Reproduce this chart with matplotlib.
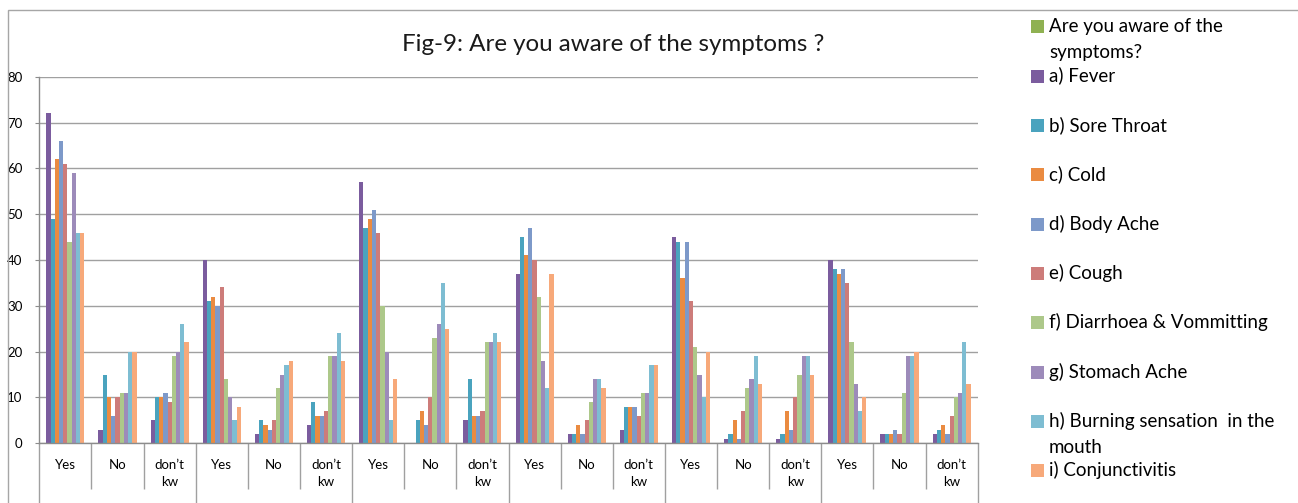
import matplotlib
matplotlib.use("Agg")
import matplotlib.pyplot as plt
from matplotlib.patches import Rectangle
from matplotlib.transforms import blended_transform_factory
import numpy as np

plt.rcParams['font.family'] = ['Lato', 'DejaVu Sans']

# ---- data -------------------------------------------------------------
categories = ["Yes", "No", "don\u2019t\nkw"] * 6

header_label = "Are you aware of the\nsymptoms?"
header_color = "#8FB152"

series_names = [
    "a) Fever",
    "b) Sore Throat",
    "c) Cold",
    "d) Body Ache",
    "e) Cough",
    "f) Diarrhoea & Vommitting",
    "g) Stomach Ache",
    "h) Burning sensation  in the\nmouth",
    "i) Conjunctivitis",
]

fever      = [72, 3, 5, 40, 2, 4, 57, 0, 5, 37, 2, 3, 45, 1, 1, 40, 2, 2]
sore       = [49, 15, 10, 31, 5, 9, 47, 5, 14, 45, 2, 8, 44, 2, 2, 38, 2, 3]
cold       = [62, 10, 10, 32, 4, 6, 49, 7, 6, 41, 4, 8, 36, 5, 7, 37, 2, 4]
body_ache  = [66, 6, 11, 30, 3, 6, 51, 4, 6, 47, 2, 8, 44, 1, 3, 38, 3, 2]
cough      = [61, 10, 9, 34, 5, 7, 46, 10, 7, 40, 5, 6, 31, 7, 10, 35, 2, 6]
diarrhoea  = [44, 11, 19, 14, 12, 19, 30, 23, 22, 32, 9, 11, 21, 12, 15, 22, 11, 10]
stomach    = [59, 11, 20, 10, 15, 19, 20, 26, 22, 18, 14, 11, 15, 14, 19, 13, 19, 11]
burning    = [46, 20, 26, 5, 17, 24, 5, 35, 24, 12, 14, 17, 10, 19, 19, 7, 19, 22]
conjunct   = [46, 20, 22, 8, 18, 18, 14, 25, 22, 37, 12, 17, 20, 13, 15, 10, 20, 13]

series_values = [fever, sore, cold, body_ache, cough, diarrhoea, stomach,
                 burning, conjunct]

series_colors = ["#7B5C9E", "#4AA3BE", "#EA8B41", "#7D99C9", "#CD7C7A",
                 "#ADC88A", "#9D8BBA", "#7EBDD2", "#F7A97A"]

y_ticks = list(range(0, 81, 10))

# ---- figure -----------------------------------------------------------
W, H = 1298, 503
fig = plt.figure(figsize=(W / 100, H / 100), dpi=100)
fig.patch.set_facecolor("white")

def fx(px):
    return px / W

def fy(py):
    return 1 - py / H

# outer chart frame
fig.patches.append(Rectangle((fx(8), -0.1), 1.2, fy(10) + 0.1,
                             transform=fig.transFigure, fill=False,
                             edgecolor="#A6A6A6", linewidth=1.0))

left, right, top, bottom = 39.3, 977.7, 76.7, 443.3
ax = fig.add_axes([fx(left), fy(bottom), fx(right) - fx(left),
                   fy(top) - fy(bottom)])

n_cat = len(categories)
n_ser = len(series_values)
x = np.arange(n_cat)
bar_w = 0.081

for i, (vals, col) in enumerate(zip(series_values, series_colors)):
    ax.bar(x + (i - (n_ser - 1) / 2) * bar_w, vals, width=bar_w,
           color=col, linewidth=0, zorder=2)

ax.set_xlim(-0.5, n_cat - 0.5)
ax.set_ylim(0, 80)
ax.set_yticks(y_ticks)
ax.set_yticklabels([str(v) for v in y_ticks], fontsize=9.5)
ax.yaxis.grid(True, color="#A0A0A0", linewidth=1.0)
ax.set_axisbelow(True)

grid_gray = "#8C8C8C"
for side in ("top", "right"):
    ax.spines[side].set_visible(False)
for side in ("left", "bottom"):
    ax.spines[side].set_color(grid_gray)
    ax.spines[side].set_linewidth(1.0)

ax.tick_params(axis="y", length=3, width=0.8, color=grid_gray, pad=9,
               labelcolor="black")

# category boundaries: long lines between groups, shorter inside groups
group_edges = np.arange(-0.5, n_cat, 3)
inner_edges = [e for e in np.arange(-0.5, n_cat, 1) if e not in group_edges]
ax.set_xticks(group_edges)
ax.set_xticks(inner_edges, minor=True)
ax.tick_params(axis="x", which="major", length=46, width=1.0,
               color="#A0A0A0", labelbottom=False)
ax.tick_params(axis="x", which="minor", length=33, width=1.0,
               color="#A0A0A0", labelbottom=False)

# category labels
trans = blended_transform_factory(ax.transData, ax.transAxes)
axis_h = bottom - top
line_px = 16.7
first_base = 469.3
for xi, lab in zip(x, categories):
    for k, line in enumerate(lab.split("\n")):
        yy = -(first_base + k * line_px - bottom) / axis_h
        ax.text(xi, yy, line, transform=trans, ha="center", va="baseline",
                fontsize=9.5, color="black")

# title
fig.text(fx(613.3), fy(50.7), "Fig-9: Are you aware of the symptoms ?",
         ha="center", va="baseline", fontsize=17.4, color="#1A1A1A")

# legend
legend_labels = [header_label] + series_names
legend_colors = [header_color] + series_colors
base0, step, lstep = 32.3, 49.35, 25.5
for i, (lab, col) in enumerate(zip(legend_labels, legend_colors)):
    b = base0 + i * step
    fig.patches.append(Rectangle((fx(1031), fy(b + 1)), fx(13), 13 / H,
                                 transform=fig.transFigure,
                                 facecolor=col, edgecolor="none"))
    for k, line in enumerate(lab.split("\n")):
        fig.text(fx(1049), fy(b + k * lstep), line, ha="left",
                 va="baseline", fontsize=13.5, color="black")

fig.savefig("out.png", dpi=100, facecolor="white")
